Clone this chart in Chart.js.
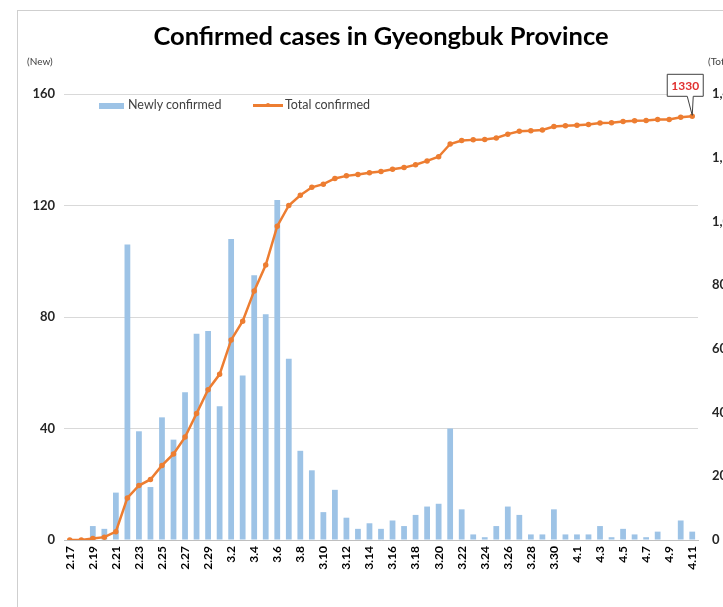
<!DOCTYPE html>
<html>
<head>
<meta charset="utf-8">
<script src="https://cdn.jsdelivr.net/npm/chart.js@4"></script>
<style>
  html, body { margin: 0; padding: 0; width: 723px; height: 607px; overflow: hidden; background: #fff; }
  #frame { position: absolute; left: 17px; top: 10px; width: 800px; height: 700px; border: 1px solid #cfcfcf; box-sizing: border-box; }
  #c { position: absolute; left: 0; top: 0; }
  .txt { position: absolute; font-family: Lato, "Liberation Sans", sans-serif; color: #404040; white-space: nowrap; }
  #title { left: 81px; width: 600px; top: 20px; text-align: center; font-size: 25.5px; font-weight: bold; color: #000; }
  #newlab { left: 27px; top: 55px; font-size: 10px; }
  #totlab { left: 708px; top: 55px; font-size: 10px; }
  .leg { position: absolute; }
</style>
</head>
<body>
<div id="frame"></div>
<canvas id="c" width="762" height="607"></canvas>
<div class="txt" id="title">Confirmed cases in Gyeongbuk Province</div>
<div class="txt" id="newlab">(New)</div>
<div class="txt" id="totlab">(Total)</div>
<div class="leg" style="left:99px;top:103px;width:25px;height:6px;background:#9DC3E6;"></div>
<div class="txt" style="left:128px;top:97px;font-size:12.5px;">Newly confirmed</div>
<div class="leg" style="left:253px;top:104px;width:30px;height:2.5px;background:#ED7D31;"></div>
<div class="leg" style="left:266px;top:103px;width:4px;height:4px;border-radius:50%;background:#ED7D31;"></div>
<div class="txt" style="left:285px;top:97px;font-size:12.5px;">Total confirmed</div>
<script>
const categories = ["2.17","2.18","2.19","2.20","2.21","2.22","2.23","2.24","2.25","2.26","2.27","2.28","2.29",
  "3.1","3.2","3.3","3.4","3.5","3.6","3.7","3.8","3.9","3.10","3.11","3.12","3.13","3.14","3.15","3.16","3.17",
  "3.18","3.19","3.20","3.21","3.22","3.23","3.24","3.25","3.26","3.27","3.28","3.29","3.30","3.31",
  "4.1","4.2","4.3","4.4","4.5","4.6","4.7","4.8","4.9","4.10","4.11"];
const newlyConfirmed = [0,0,5,4,17,106,39,19,44,36,53,74,75,
  48,108,59,95,81,122,65,32,25,10,18,8,4,6,4,7,5,
  9,12,13,40,11,2,1,5,12,9,2,2,11,2,
  2,2,5,1,4,2,1,3,0,7,3];
const totalConfirmed = [0,0,5,9,26,132,171,190,234,270,323,397,472,
  520,628,687,782,863,985,1050,1082,1107,1117,1135,1143,1147,1153,1157,1164,1169,
  1178,1190,1203,1243,1254,1256,1257,1262,1274,1283,1285,1287,1298,1300,
  1302,1304,1309,1310,1314,1316,1317,1320,1320,1327,1330];
const leftTicks = { min: 0, max: 160, step: 40 };
const rightTicks = { min: 0, max: 1400, step: 200 };
const calloutLabel = "1330";

const calloutPlugin = {
  id: 'callout',
  afterDatasetsDraw(chart) {
    const meta = chart.getDatasetMeta(1);
    const pt = meta.data[meta.data.length - 1];
    const px = pt.x, py = pt.y;
    const ctx = chart.ctx;
    const l = px - 25, r = px + 11, t = py - 42, b = py - 20;
    ctx.save();
    ctx.beginPath();
    ctx.moveTo(l, t); ctx.lineTo(r, t); ctx.lineTo(r, b);
    ctx.lineTo(px + 1, b); ctx.lineTo(px, py - 1); ctx.lineTo(px - 5, b);
    ctx.lineTo(l, b); ctx.closePath();
    ctx.fillStyle = '#fff'; ctx.fill();
    ctx.strokeStyle = '#404040'; ctx.lineWidth = 1; ctx.stroke();
    ctx.fillStyle = '#E0302F';
    ctx.font = 'bold 12px Lato, "Liberation Sans", sans-serif';
    ctx.textAlign = 'center'; ctx.textBaseline = 'middle';
    ctx.fillText(calloutLabel, (l + r) / 2, (t + b) / 2 + 1);
    ctx.restore();
  }
};

new Chart(document.getElementById('c'), {
  data: {
    labels: categories,
    datasets: [
      { type: 'bar', label: 'Newly confirmed', data: newlyConfirmed, yAxisID: 'y',
        backgroundColor: '#9DC3E6', barPercentage: 0.5, categoryPercentage: 1.0, order: 1 },
      { type: 'line', label: 'Total confirmed', data: totalConfirmed, yAxisID: 'y1',
        borderColor: '#ED7D31', backgroundColor: '#ED7D31', borderWidth: 2.5,
        pointRadius: 1.5, pointHoverRadius: 1.5, tension: 0, order: 0 }
    ]
  },
  options: {
    responsive: false, animation: false, devicePixelRatio: 1,
    layout: { padding: { top: 94, left: 0, right: 0, bottom: 0 } },
    plugins: { legend: { display: false }, title: { display: false }, tooltip: { enabled: false } },
    scales: {
      x: {
        offset: true,
        grid: { display: false, drawTicks: false },
        border: { display: true, color: '#bfbfbf', width: 1 },
        ticks: {
          autoSkip: false, maxRotation: 90, minRotation: 90, padding: 6,
          color: '#000', font: { family: 'Lato, "Liberation Sans", sans-serif', size: 12, weight: 'bold' },
          callback(v, i) { return i % 2 === 0 ? categories[i] : ''; }
        },
        afterFit(s) { s.height = 67; }
      },
      y: {
        position: 'left', min: leftTicks.min, max: leftTicks.max,
        grid: { color: '#d9d9d9', drawTicks: false },
        border: { display: false },
        ticks: { stepSize: leftTicks.step, padding: 9, color: '#262626',
          font: { family: 'Lato, "Liberation Sans", sans-serif', size: 13, weight: 'bold' } },
        afterFit(s) { s.width = 64; }
      },
      y1: {
        position: 'right', min: rightTicks.min, max: rightTicks.max,
        grid: { display: false, drawTicks: false },
        border: { display: false },
        ticks: { stepSize: rightTicks.step, padding: 14, color: '#262626',
          font: { family: 'Lato, "Liberation Sans", sans-serif', size: 13, weight: 'bold' } },
        afterFit(s) { s.width = 64; }
      }
    }
  },
  plugins: [calloutPlugin]
});
</script>
</body>
</html>
